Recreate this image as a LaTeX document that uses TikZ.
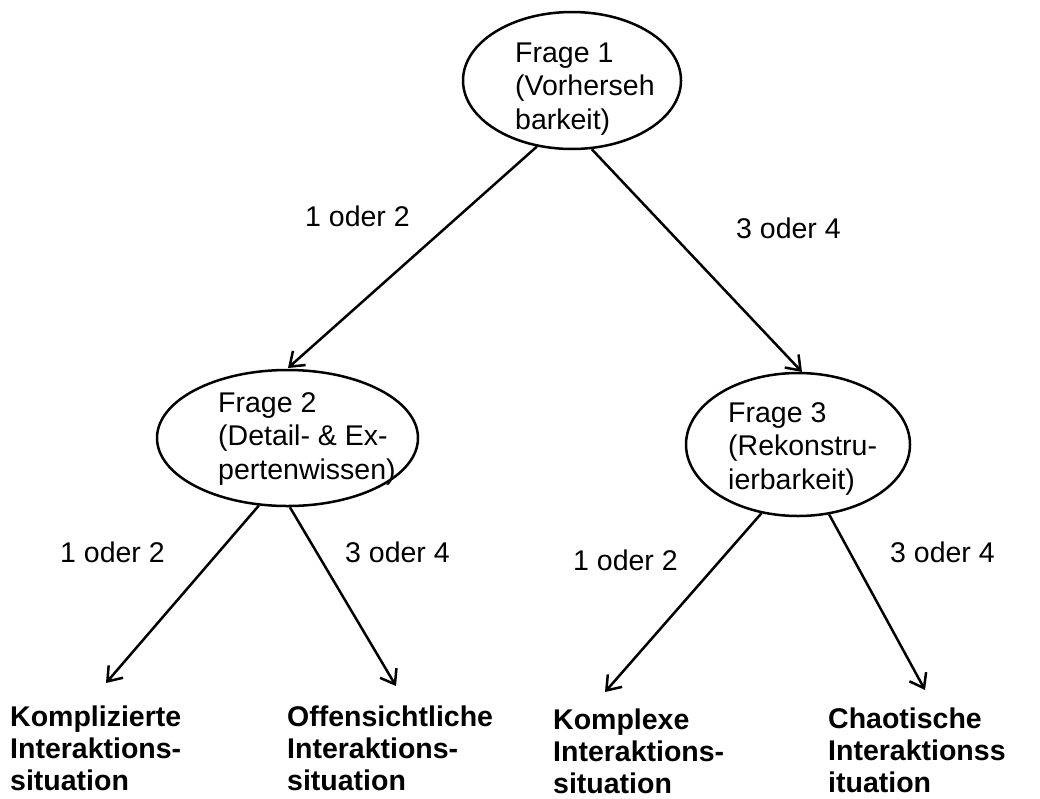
\documentclass[tikz,border=0pt]{standalone}
\usepackage{fontspec}
\setmainfont{Liberation Sans}
\usetikzlibrary{shapes.geometric,arrows.meta}
\begin{document}
\begin{tikzpicture}[x=1pt,y=-1pt,
  oval/.style={draw,line width=2.5pt,ellipse,inner sep=0pt},
  txt/.style={anchor=base west,inner sep=0pt,font=\fontsize{28.5}{33.5}\selectfont},
  btxt/.style={anchor=base west,inner sep=0pt,font=\fontsize{28.5}{32}\selectfont\bfseries},
  conn/.style={line width=2.5pt,-{Straight Barb[length=13pt,width=19pt,line width=2.5pt]}}]
\useasboundingbox (0,0) rectangle (1040,798);
% ellipses
\node[oval,minimum width=218pt,minimum height=137pt] (e1) at (572,80.5) {};
\node[oval,minimum width=261pt,minimum height=136pt] (e2) at (287.5,438) {};
\node[oval,minimum width=224pt,minimum height=143pt] (e3) at (798,444.5) {};
% ellipse texts
\node[txt] (q1) at (515,62) {\begin{tabular}[t]{@{}l@{}}Frage 1\\(Vorherseh\\barkeit)\end{tabular}};
\node[txt] (q2) at (218,412) {\begin{tabular}[t]{@{}l@{}}Frage 2\\(Detail- \& Ex-\\pertenwissen)\end{tabular}};
\node[txt] (q3) at (728,422) {\begin{tabular}[t]{@{}l@{}}Frage 3\\(Rekonstru-\\ierbarkeit)\end{tabular}};
% arrow end points
\coordinate (t1) at (288,368);
\coordinate (t2) at (802,372);
\coordinate (t3) at (106,683);
\coordinate (t4) at (396,686);
\coordinate (t5) at (605,692);
\coordinate (t6) at (925,690);
% connectors
\draw[conn] (e1.242.6) -- (t1);
\draw[conn] (e1.286.3) -- (t2);
\draw[conn] (e2.247.1) -- (t3);
\draw[conn] (e2.272) -- (t4);
\draw[conn] (e3.242.9) -- (t5);
\draw[conn] (e3.294.4) -- (t6);
% edge labels
\node[txt] (l1) at (305,226) {1 oder 2};
\node[txt] (l2) at (736,238) {3 oder 4};
\node[txt] (l3) at (60,562) {1 oder 2};
\node[txt] (l4) at (345,562) {3 oder 4};
\node[txt] (l5) at (573,570) {1 oder 2};
\node[txt] (l6) at (890,562) {3 oder 4};
% results
\node[btxt] (r1) at (10,726) {\begin{tabular}[t]{@{}l@{}}Komplizierte\\Interaktions-\\situation\end{tabular}};
\node[btxt] (r2) at (287,726) {\begin{tabular}[t]{@{}l@{}}Offensichtliche\\Interaktions-\\situation\end{tabular}};
\node[btxt] (r3) at (553,729) {\begin{tabular}[t]{@{}l@{}}Komplexe\\Interaktions-\\situation\end{tabular}};
\node[btxt] (r4) at (828,728) {\begin{tabular}[t]{@{}l@{}}Chaotische\\Interaktionss\\ituation\end{tabular}};
\end{tikzpicture}
\end{document}
